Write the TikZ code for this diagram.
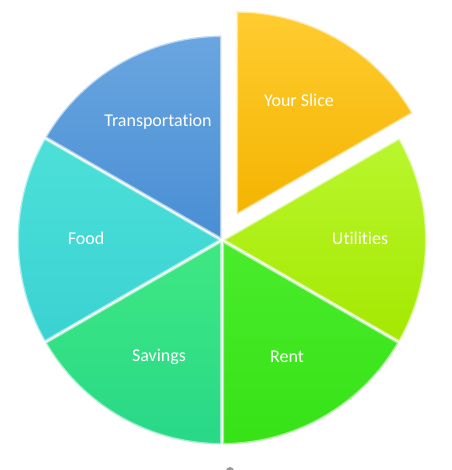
\documentclass[tikz,border=0pt]{standalone}
\usepackage{fontspec}
\setmainfont{Carlito}[RawFeature={-liga;-clig;-dlig}]
\usetikzlibrary{calc}
\begin{document}
\begin{tikzpicture}[x=1pt,y=1pt,
  lbl/.style={text=white,font=\fontsize{18}{20}\selectfont},
  bevel/.style={white,opacity=0.55,line width=4pt},
  edge/.style={white,line width=1.2pt}]
\useasboundingbox (0,0) rectangle (451,470);
\def\R{205}
\coordinate (c) at (222,230);
\coordinate (cx) at ($(222,230)+(60:28)$);
% slice macro: #1 center, #2 start, #3 end, #4 top colour, #5 bottom colour
\newcommand\pieslice[5]{%
  \begin{scope}
    \clip (#1) -- ++(#2:\R) arc[start angle=#2,end angle=#3,radius=\R] -- cycle;
    \shade[top color=#4,bottom color=#5] (#1) -- ++(#2:\R) arc[start angle=#2,end angle=#3,radius=\R] -- cycle;
    \draw[bevel] (#1) -- ++(#2:\R) arc[start angle=#2,end angle=#3,radius=\R] -- cycle;
  \end{scope}
  \draw[edge] (#1) -- ++(#2:\R) arc[start angle=#2,end angle=#3,radius=\R] -- cycle;}
\definecolor{ysT}{RGB}{255,204,48}\definecolor{ysB}{RGB}{244,180,0}
\definecolor{utT}{RGB}{186,246,46}\definecolor{utB}{RGB}{164,232,0}
\definecolor{reT}{RGB}{74,236,44}\definecolor{reB}{RGB}{54,226,22}
\definecolor{saT}{RGB}{64,232,130}\definecolor{saB}{RGB}{40,216,136}
\definecolor{foT}{RGB}{76,224,216}\definecolor{foB}{RGB}{58,210,210}
\definecolor{trT}{RGB}{106,166,224}\definecolor{trB}{RGB}{72,142,212}
\pieslice{c}{-30}{30}{utT}{utB}
\pieslice{c}{-90}{-30}{reT}{reB}
\pieslice{c}{-150}{-90}{saT}{saB}
\pieslice{c}{150}{210}{foT}{foB}
\pieslice{c}{90}{150}{trT}{trB}
\pieslice{cx}{30}{90}{ysT}{ysB}
\node[lbl] (ys) at (299,370) {Your Slice};
\node[lbl] (tr) at (158,348) {Transportation};
\node[lbl] (fo) at (86,232) {Food};
\node[lbl] (ut) at (360,232) {Utilities};
\node[lbl] (re) at (287,113) {Rent};
\node[lbl] (sa) at (159,113) {Savings};
\begin{scope}
\clip (0,0) rectangle (451,470);
\fill[gray!80] (230,-1) circle (4);
\end{scope}
\end{tikzpicture}
\end{document}
